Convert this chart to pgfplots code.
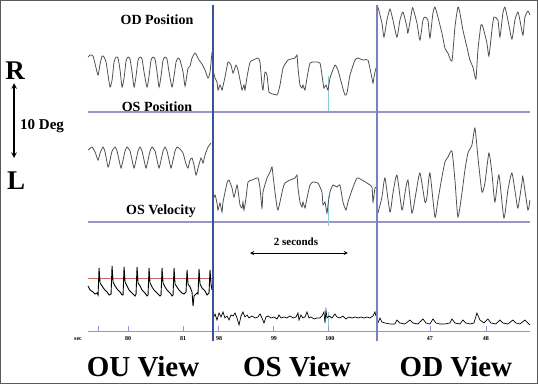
\documentclass[border=0pt]{standalone}
\usepackage{pgfplots}
\pgfplotsset{compat=1.18}
\usepackage{fontspec}
\setmainfont{Liberation Serif}
\definecolor{trace}{HTML}{505050}
\definecolor{vblueA}{HTML}{3C4EA0}
\definecolor{vblueB}{HTML}{7A80C0}
\definecolor{hline}{HTML}{9898C8}
\definecolor{redl}{HTML}{D06868}
\definecolor{cyanl}{HTML}{8CCCDC}
\definecolor{frame}{HTML}{5A5A5A}
\newcommand{\fs}[1]{\fontsize{#1bp}{#1bp}\selectfont\bfseries}
\begin{document}
\begin{tikzpicture}
\begin{axis}[width=538bp, height=384bp, scale only axis, xmin=0, xmax=538, ymin=0, ymax=384,
  y dir=reverse, hide axis, clip=false]
% frame
\draw[frame, line width=1.2pt] (axis cs:0.5,0.5) rectangle (axis cs:537.5,383.5);
% horizontal separator lines
\addplot[hline, line width=1.3pt] coordinates {(88,112) (530,112)};
\addplot[hline, line width=1.3pt] coordinates {(88,222) (530,222)};
\addplot[hline, line width=1.0pt] coordinates {(88,332) (530,332)};
% red reference line
\addplot[redl, line width=0.9pt] coordinates {(88,278) (212,278)};
% cyan markers
\addplot[cyanl, line width=0.8pt] coordinates {(328,76) (328,111)};
\addplot[cyanl, line width=0.8pt] coordinates {(328,196) (328,226)};
\addplot[cyanl, line width=0.8pt] coordinates {(328,312) (328,330)};
% ticks on time axis
\foreach \t in {98,128,183,218,273,328,430,486}{
  \edef\tmp{\noexpand\addplot[hline, line width=0.7pt] coordinates {(\t,332) (\t,326)};}\tmp}
% OD position, OU view
\addplot[trace, line width=0.8pt, smooth, tension=0.35] coordinates {(88,57)(90,55)(93,56)(96,68)(98,75)(100,64)(102,56)(104,57)(106,62)(108,75)(110,87)(112,80)(114,62)(116,57)(118,58)(120,70)(122,87)(124,78)(126,61)(128,57)(130,59)(132,72)(134,87)(136,76)(138,60)(140,57)(142,59)(144,72)(147,87)(149,76)(151,60)(153,57)(155,59)(157,72)(159,87)(161,76)(163,60)(165,57)(167,59)(169,72)(172,87)(174,76)(176,62)(178,58)(180,60)(183,72)(185,86)(187,74)(188,68)(190,66)(192,58)(195,53)(197,56)(199,60)(202,64)(205,70)(208,78)(210,72)(212,52)};
% OD position, OS view
\addplot[trace, line width=0.8pt, smooth, tension=0.3] coordinates {(213,70)(215,78)(217,82)(218,90)(220,85)(222,90)(223,86)(225,77)(228,62)(231,65)(233,73)(236,65)(238,70)(241,85)(242,90)(244,85)(245,90)(247,77)(250,62)(253,60)(258,58)(260,62)(262,85)(263,90)(265,72)(267,75)(269,92)(273,94)(277,95)(278,93)(280,85)(283,68)(288,60)(295,58)(297,55)(298,68)(300,85)(302,88)(303,85)(305,90)(307,78)(310,63)(315,62)(320,63)(323,82)(324,88)(326,85)(328,90)(330,78)(335,65)(338,70)(342,85)(345,95)(347,93)(350,75)(355,60)(358,58)(363,60)(368,60)(372,78)(373,83)(375,72)(377,65)};
% OD position, OD view
\addplot[trace, line width=0.8pt, smooth, tension=0.35] coordinates {(378,7)(382,23)(384,37)(387,20)(390,9)(393,20)(397,37)(400,20)(403,12)(407,27)(408,33)(412,10)(413,8)(417,23)(420,40)(423,20)(425,17)(428,20)(430,38)(433,13)(435,7)(438,17)(442,33)(445,48)(448,53)(452,61)(455,27)(458,7)(460,13)(463,30)(467,47)(470,60)(473,67)(476,79)(478,50)(481,25)(483,27)(487,43)(489,56)(492,30)(494,17)(498,20)(500,37)(503,13)(505,7)(508,20)(512,39)(515,20)(518,12)(520,20)(523,35)(525,17)(528,11)(530,15)};
% OS position, OU view
\addplot[trace, line width=0.8pt, smooth, tension=0.35] coordinates {(88,150)(92,147)(95,152)(98,160)(100,153)(103,147)(105,152)(108,167)(110,160)(112,151)(115,147)(117,151)(119,160)(121,168)(123,160)(125,151)(127,147)(130,151)(132,160)(134,168)(136,160)(138,151)(140,147)(142,151)(144,160)(146,168)(148,160)(150,151)(152,147)(155,151)(157,160)(159,168)(161,160)(163,151)(165,147)(167,151)(169,160)(171,168)(173,160)(175,151)(177,147)(180,149)(183,153)(186,164)(188,168)(190,160)(192,158)(194,165)(196,175)(198,168)(201,158)(203,163)(205,155)(208,147)(211,143)};
% OS position, OS view
\addplot[trace, line width=0.8pt, smooth, tension=0.3] coordinates {(213,200)(215,195)(217,203)(218,210)(220,203)(222,212)(223,202)(227,183)(229,180)(232,188)(234,197)(237,185)(238,190)(240,205)(242,208)(243,202)(244,210)(246,198)(248,182)(252,180)(258,178)(260,188)(262,208)(263,192)(267,178)(270,172)(272,167)(273,175)(275,192)(277,207)(278,210)(280,202)(283,188)(285,183)(290,180)(295,178)(297,175)(298,188)(300,202)(302,207)(303,202)(305,208)(307,198)(310,185)(313,182)(318,183)(322,192)(323,205)(325,202)(327,213)(328,205)(330,192)(333,185)(337,187)(340,185)(343,202)(346,210)(348,202)(352,190)(357,178)(362,180)(367,183)(372,187)(373,202)(375,188)(376,187)};
% OS position, OD view
\addplot[trace, line width=0.8pt, smooth, tension=0.35] coordinates {(378,213)(382,197)(385,178)(390,212)(393,193)(397,175)(402,210)(405,193)(408,180)(412,213)(416,193)(420,173)(425,202)(427,197)(430,173)(435,217)(438,200)(442,177)(445,162)(448,157)(452,151)(455,180)(458,217)(462,193)(465,170)(468,153)(472,145)(475,128)(478,157)(482,192)(485,183)(489,153)(492,173)(495,202)(499,175)(504,218)(508,190)(512,173)(516,197)(518,208)(522,183)(523,177)(528,210)(530,200)};
% OS velocity, OU view
\addplot[black, line width=0.9pt] coordinates {(88,286)(90,290)(93,292)(95,294)(97,293)(98,295)(99,268)(100,283)(102,286)(104,289)(107,292)(109,295)(111,294)(112,266)(113,282)(115,286)(117,289)(120,292)(122,295)(123,295)(124,267)(125,282)(127,286)(129,290)(132,293)(135,296)(136,294)(137,267)(138,283)(140,286)(142,290)(145,293)(147,296)(148,295)(149,268)(150,283)(152,287)(154,290)(157,293)(160,296)(161,295)(162,268)(163,283)(165,287)(167,290)(170,293)(172,296)(173,295)(174,268)(175,284)(177,287)(179,290)(182,293)(184,294)(186,292)(187,270)(188,284)(190,287)(192,292)(193,306)(194,296)(197,293)(198,294)(199,269)(200,284)(202,288)(205,291)(207,295)(209,293)(210,270)(211,284)(212,290)};
% OS velocity, OS view
\addplot[black, line width=0.7pt] coordinates {(213,318)(215,314)(217,320)(219,313)(221,317)(223,312)(225,318)(227,316)(229,320)(231,315)(233,316)(235,313)(237,318)(239,325)(241,316)(243,312)(245,317)(247,315)(249,318)(252,316)(255,318)(258,317)(260,314)(262,318)(264,323)(266,317)(268,316)(271,318)(274,317)(277,319)(279,315)(281,318)(284,317)(287,318)(290,316)(293,318)(296,317)(298,313)(299,320)(301,315)(303,318)(305,317)(307,312)(309,318)(311,317)(314,319)(317,318)(320,318)(322,316)(324,312)(325,323)(326,310)(327,318)(329,316)(332,318)(335,314)(337,317)(340,318)(343,316)(346,319)(349,317)(352,318)(355,317)(358,318)(361,317)(364,318)(367,317)(370,318)(373,316)(375,312)(376,316)};
% OS velocity, OD view
\addplot[black, line width=0.7pt] coordinates {(378,323)(380,318)(382,322)(385,323)(390,324)(395,324)(397,320)(400,323)(405,324)(410,320)(413,323)(418,324)(423,319)(426,323)(430,324)(433,319)(436,323)(440,324)(445,324)(450,323)(452,319)(455,323)(460,324)(463,320)(466,323)(470,324)(474,323)(477,313)(480,320)(484,323)(488,319)(491,323)(496,324)(500,320)(503,323)(508,324)(513,320)(516,323)(520,324)(525,320)(528,323)(530,325)};
% vertical separators
\addplot[vblueA, line width=1.6pt] coordinates {(213,5) (213,341)};
\addplot[vblueB, line width=2.0pt] coordinates {(377,5) (377,341)};
% texts
\node at (axis cs:157,20) {\fs{14}OD Position};
\node at (axis cs:157,107) {\fs{14}OS Position};
\node at (axis cs:161,211) {\fs{14}OS Velocity};
\node at (axis cs:15,71) {\fs{27}R};
\node at (axis cs:16,181) {\fs{27}L};
\node at (axis cs:42,126) {\fs{15}10 Deg};
\draw[<->, >=stealth, line width=1.5pt] (axis cs:14,83) -- (axis cs:14,158);
\node at (axis cs:296,242) {\fs{11}2 seconds};
\draw[<->, >=stealth, line width=0.9pt] (axis cs:250,253) -- (axis cs:348,253);
\node at (axis cs:143,367) {\fs{29}OU View};
\node at (axis cs:297,367) {\fs{29}OS View};
\node at (axis cs:456,367) {\fs{29}OD View};
\node at (axis cs:78,339) {\fs{6}sec};
\node at (axis cs:128,339) {\fs{6}80};
\node at (axis cs:183,339) {\fs{6}81};
\node at (axis cs:219,339) {\fs{6}98};
\node at (axis cs:274,339) {\fs{6}99};
\node at (axis cs:330,339) {\fs{6}100};
\node at (axis cs:430,339) {\fs{6}47};
\node at (axis cs:486,339) {\fs{6}48};
\end{axis}
\end{tikzpicture}
\end{document}
